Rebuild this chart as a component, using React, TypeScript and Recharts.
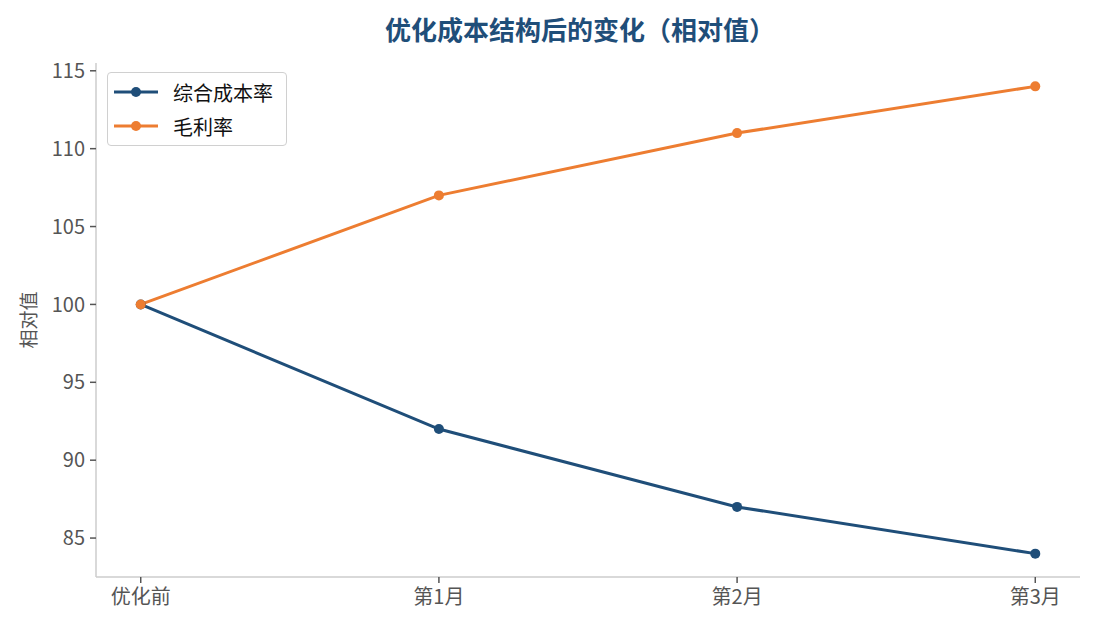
import React from 'react';
import { LineChart, Line, XAxis, YAxis } from 'recharts';

const categories = ['优化前', '第1月', '第2月', '第3月'];
const costRate = [100, 92, 87, 84];
const grossMargin = [100, 107, 111, 114];
const yTicks = [85, 90, 95, 100, 105, 110, 115];

const BLUE = '#1f4e79';
const ORANGE = '#ed7d31';
const CJK = '"Noto Sans CJK SC", "Noto Sans", sans-serif';

const data = categories.map((c, i) => ({ idx: i, name: c, cost: costRate[i], margin: grossMargin[i] }));

const legendItems = [
  { label: '综合成本率', color: BLUE },
  { label: '毛利率', color: ORANGE },
];

function LegendBox() {
  return (
    <div
      style={{
        position: 'absolute',
        left: 107,
        top: 72,
        border: '1.5px solid #d0d0d0',
        borderRadius: 4,
        background: '#fff',
        padding: '2px 0 2px 5px',
        width: 180,
        boxSizing: 'border-box',
        fontFamily: CJK,
      }}
    >
      {legendItems.map((it) => (
        <div key={it.label} style={{ display: 'flex', alignItems: 'center', height: 34 }}>
          <svg width={46} height={14} style={{ marginRight: 14 }}>
            <line x1={1} y1={7} x2={45} y2={7} stroke={it.color} strokeWidth={3} />
            <circle cx={23} cy={7} r={5} fill={it.color} />
          </svg>
          <span style={{ fontSize: 20, color: '#111' }}>{it.label}</span>
        </div>
      ))}
    </div>
  );
}

export default function App() {
  return (
    <div style={{ position: 'absolute', left: 0, top: 0, width: 1095, height: 630, background: '#fff' }}>
      <div
        style={{
          position: 'absolute',
          left: 380,
          width: 400,
          top: 9,
          height: 40,
          lineHeight: '40px',
          textAlign: 'center',
          fontFamily: CJK,
          fontWeight: 'bold',
          fontSize: 26,
          color: BLUE,
          whiteSpace: 'nowrap',
        }}
      >
        优化成本结构后的变化（相对值）
      </div>
      <div
        style={{
          position: 'absolute',
          left: 27,
          top: 320,
          transform: 'translate(-50%, -50%) rotate(-90deg)',
          fontFamily: CJK,
          fontSize: 19,
          color: '#555',
          whiteSpace: 'nowrap',
        }}
      >
        相对值
      </div>
      <LineChart
        width={1095}
        height={630}
        data={data}
        margin={{ top: 63, right: 15, bottom: 0, left: 0 }}
      >
        <XAxis
          type="number"
          dataKey="idx"
          domain={[-0.15, 3.15]}
          ticks={[0, 1, 2, 3]}
          tickFormatter={(v) => categories[v]}
          height={53}
          axisLine={{ stroke: '#cccccc', strokeWidth: 1.5 }}
          tickLine={{ stroke: '#555', strokeWidth: 1.5 }}
          tickSize={6}
          tickMargin={7}
          tick={{ fill: '#555', fontSize: 20, fontFamily: CJK }}
        />
        <YAxis
          type="number"
          domain={[82.5, 115.5]}
          ticks={yTicks}
          width={96}
          axisLine={{ stroke: '#cccccc', strokeWidth: 1.5 }}
          tickLine={{ stroke: '#555', strokeWidth: 1.5 }}
          tickSize={6}
          tickMargin={5}
          tick={{ fill: '#555', fontSize: 20, fontFamily: CJK }}
        />
        <Line
          dataKey="cost"
          name="综合成本率"
          stroke={BLUE}
          strokeWidth={3}
          dot={{ r: 5, fill: BLUE, stroke: BLUE, strokeWidth: 0 }}
          isAnimationActive={false}
        />
        <Line
          dataKey="margin"
          name="毛利率"
          stroke={ORANGE}
          strokeWidth={3}
          dot={{ r: 5, fill: ORANGE, stroke: ORANGE, strokeWidth: 0 }}
          isAnimationActive={false}
        />
      </LineChart>
      <LegendBox />
    </div>
  );
}
